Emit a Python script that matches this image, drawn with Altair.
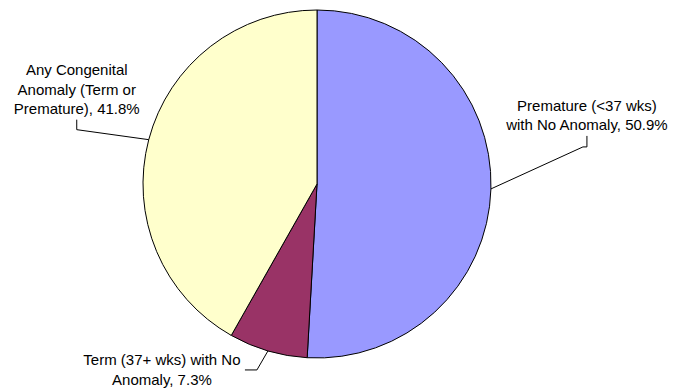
import math
import altair as alt
import pandas as pd

# ---- data ----
categories = [
    "Premature (<37 wks) with No Anomaly",
    "Term (37+ wks) with No Anomaly",
    "Any Congenital Anomaly (Term or Premature)",
]
values = [50.9, 7.3, 41.8]
colors = ["#9999FF", "#993366", "#FFFFCC"]
label_lines = [
    ["Premature (<37 wks)", "with No Anomaly, {v}%"],
    ["Term (37+ wks) with No", "Anomaly, {v}%"],
    ["Any Congenital", "Anomaly (Term or", "Premature), {v}%"],
]

# ---- layout (styles) ----
W, H = 674, 390
CX, CY, R = 317, 184, 174
FONT = "Liberation Sans"
FS = 15
# leader-line bends relative to pie edge point, label block centre, line height
leader_offsets = [
    [(0, 0), (92, -42), (96, -42), (96, -53)],
    [(0, 0), (-11, 19), (-23, 19)],
    [(0, 0), (-72, -10), (-72, -20)],
]
label_centres = [(96, -73), (-106, 19), (-72, -50)]
line_heights = [19, 20, 19.5]

total = sum(values)
pie_df = pd.DataFrame({"category": categories, "value": values, "order": list(range(len(values)))})

line_rows, text_rows = [], []
cum = 0.0
for i, v in enumerate(values):
    mid = (cum + v / 2) / total * 2 * math.pi
    cum += v
    ex = CX + R * math.sin(mid)
    ey = CY - R * math.cos(mid)
    for j, (dx, dy) in enumerate(leader_offsets[i]):
        line_rows.append({"slice": i, "seq": j, "x": ex + dx, "y": ey + dy})
    lines = [s.format(v=v) for s in label_lines[i]]
    n = len(lines)
    cx, cy = ex + label_centres[i][0], ey + label_centres[i][1]
    for k, s in enumerate(lines):
        text_rows.append({"text": s, "x": cx, "y": cy + (k - (n - 1) / 2) * line_heights[i]})

lines_df = pd.DataFrame(line_rows)
text_df = pd.DataFrame(text_rows)

pie = alt.Chart(pie_df).mark_arc(
    outerRadius=R, stroke="black", strokeWidth=1
).encode(
    theta=alt.Theta("value:Q", stack=True),
    order=alt.Order("order:Q"),
    color=alt.Color("category:N", scale=alt.Scale(domain=categories, range=colors), legend=None),
    x=alt.value(CX),
    y=alt.value(CY),
)

leaders = alt.Chart(lines_df).mark_line(color="black", strokeWidth=1).encode(
    x=alt.X("x:Q", scale=None),
    y=alt.Y("y:Q", scale=None),
    detail="slice:N",
    order="seq:Q",
)

labels = alt.Chart(text_df).mark_text(
    font=FONT, fontSize=FS, color="black", align="center", baseline="middle"
).encode(
    x=alt.X("x:Q", scale=None),
    y=alt.Y("y:Q", scale=None),
    text="text:N",
)

chart = alt.layer(pie, leaders, labels).properties(
    width=W, height=H, autosize="none", padding=0, background="white"
).configure_view(strokeWidth=0)

chart.save("out.html", embed_options={"renderer": "svg", "actions": False})
